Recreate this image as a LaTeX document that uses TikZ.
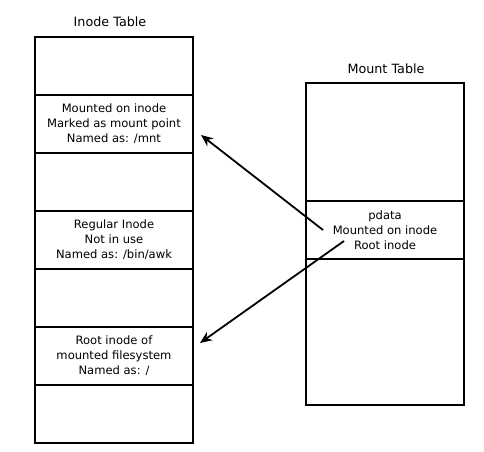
\documentclass[tikz,border=0pt]{standalone}
\usepackage{fontspec}
\setmainfont{DejaVu Sans}
\usetikzlibrary{arrows.meta}

\tikzset{
    cell/.style = {draw, line width = 2bp, minimum width = 158bp, minimum height = 58bp,
                   inner sep = 0pt, align = center, font = \fontsize{11.6}{15}\selectfont},
    title/.style = {font = \fontsize{12.8}{15}\selectfont},
    link/.style = {line width = 1.8bp, -{Stealth[length = 12bp, width = 10bp]}}
}

\begin{document}
\begin{tikzpicture}[x = 1bp, y = -1bp]
        \useasboundingbox (0, 0) rectangle (484, 452);

        % inode table
        \node [title] (ititle) at (110, 22) {Inode Table};
        \node [cell] (i1) at (114, 66) {};
        \node [cell] (i2) at (114, 124) {Mounted on inode\\Marked as mount point\\Named as: /mnt};
        \node [cell] (i3) at (114, 182) {};
        \node [cell] (i4) at (114, 240) {Regular Inode\\Not in use\\Named as: /bin/awk};
        \node [cell] (i5) at (114, 298) {};
        \node [cell] (i6) at (114, 356) {Root inode of\\mounted filesystem\\Named as: /};
        \node [cell] (i7) at (114, 414) {};

        % mount table
        \node [title] (mtitle) at (386, 69) {Mount Table};
        \node [cell, minimum height = 118bp] (m1) at (385, 142) {};
        \node [cell] (m2) at (385, 230) {pdata\\Mounted on inode\\Root inode};
        \node [cell, minimum height = 146bp] (m3) at (385, 332) {};

        \coordinate (from1) at (323, 230);
        \coordinate (from2) at (344, 241);

        \draw [link] (from1) -- ([shift = {(7, 11)}] i2.east);
        \draw [link] (from2) -- ([shift = {(6, -13)}] i6.east);
    \end{tikzpicture}
\end{document}
